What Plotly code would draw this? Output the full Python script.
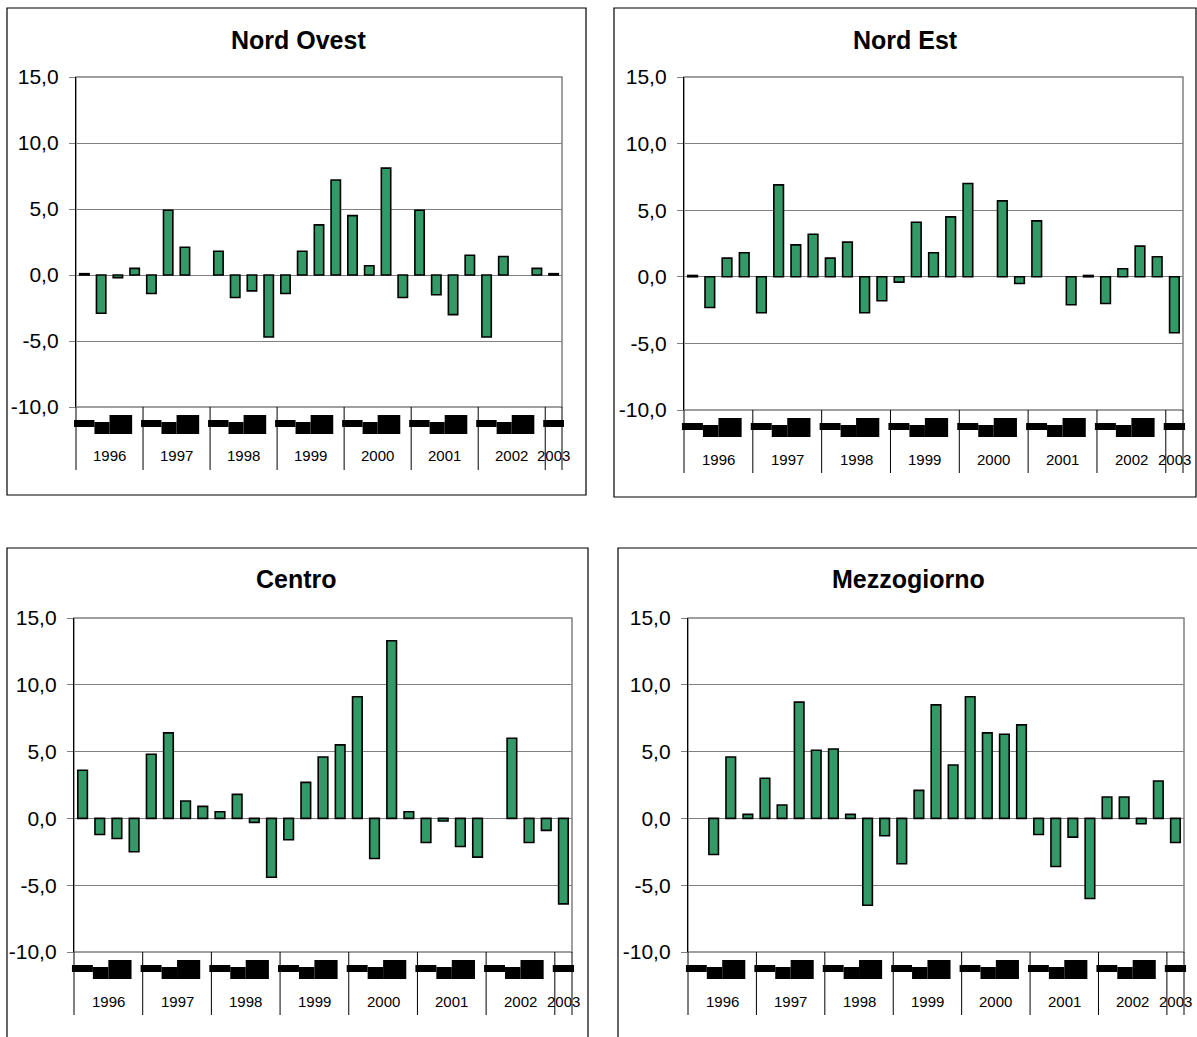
import plotly.graph_objects as go

W, H = 1197, 1037

# ---------------- data ----------------
years = ["1996", "1997", "1998", "1999", "2000", "2001", "2002", "2003"]
quarters_per_year = [4, 4, 4, 4, 4, 4, 4, 1]
titles = ["Nord Ovest", "Nord Est", "Centro", "Mezzogiorno"]

nord_ovest = [0.1, -2.9, -0.2, 0.5, -1.4, 4.9, 2.1, None, 1.8, -1.7, -1.2, -4.7,
              -1.4, 1.8, 3.8, 7.2, 4.5, 0.7, 8.1, -1.7, 4.9, -1.5, -3.0, 1.5,
              -4.7, 1.4, None, 0.5, 0.1]
nord_est = [0.1, -2.3, 1.4, 1.8, -2.7, 6.9, 2.4, 3.2, 1.4, 2.6, -2.7, -1.8,
            -0.4, 4.1, 1.8, 4.5, 7.0, None, 5.7, -0.5, 4.2, None, -2.1, 0.1,
            -2.0, 0.6, 2.3, 1.5, -4.2]
centro = [3.6, -1.2, -1.5, -2.5, 4.8, 6.4, 1.3, 0.9, 0.5, 1.8, -0.3, -4.4,
          -1.6, 2.7, 4.6, 5.5, 9.1, -3.0, 13.3, 0.5, -1.8, -0.2, -2.1, -2.9,
          None, 6.0, -1.8, -0.9, -6.4]
mezzogiorno = [None, -2.7, 4.6, 0.3, 3.0, 1.0, 8.7, 5.1, 5.2, 0.3, -6.5, -1.3,
               -3.4, 2.1, 8.5, 4.0, 9.1, 6.4, 6.3, 7.0, -1.2, -3.6, -1.4, -6.0,
               1.6, 1.6, -0.4, 2.8, -1.8]
series = [nord_ovest, nord_est, centro, mezzogiorno]
y_ticks = [-10, -5, 0, 5, 10, 15]
y_tick_text = [("%.1f" % v).replace(".", ",") for v in y_ticks]

# ---------------- layout geometry (pixels) ----------------
# plot area: x0, x1, ytop, ybottom
plot_px = [(76, 562, 77, 407), (684, 1183, 77, 410),
           (74, 572, 618, 952), (688, 1184, 618, 952)]
# panel border: x0, x1, y0, y1
border_px = [(7, 586, 8, 495), (614, 1196, 8, 497),
             (7, 588, 548, 1045), (618, 1205, 548, 1045)]
title_px = [(298, 40), (905, 40), (296, 579), (908, 579)]

GREEN = "#339966"
GRAY = "#808080"
FONT = "Liberation Sans"

fig = go.Figure()
shapes = []
annotations = []

def px2x(p):
    return p / W

def px2y(p):
    return 1 - p / H

for i, (name, vals) in enumerate(zip(titles, series)):
    k = "" if i == 0 else str(i + 1)
    xa, ya = "x" + k, "y" + k
    x0, x1, yt, yb = plot_px[i]
    n = len(vals)
    xs = list(range(1, n + 1))

    fig.add_trace(go.Bar(
        x=xs, y=vals, xaxis=xa, yaxis=ya, width=0.56,
        marker=dict(color=GREEN, line=dict(color="black", width=1.6)),
        hoverinfo="x+y", showlegend=False,
    ))

    fig.layout["xaxis" + k] = dict(
        domain=[px2x(x0), px2x(x1)], anchor=ya, range=[0.5, n + 0.5],
        showticklabels=False, showgrid=False, zeroline=False,
        showline=False, ticks="", fixedrange=True,
    )
    fig.layout["yaxis" + k] = dict(
        domain=[px2y(yb), px2y(yt)], anchor=xa, range=[-10, 15],
        tickmode="array", tickvals=y_ticks, ticktext=y_tick_text,
        showgrid=True, gridcolor=GRAY, gridwidth=1.3,
        zeroline=False, showline=True, linecolor="black", linewidth=1.3,
        ticks="outside", ticklen=6, tickcolor=GRAY, tickwidth=1.3,
        ticklabelstandoff=6,
        tickfont=dict(family=FONT, size=21, color="black"), fixedrange=True,
    )

    # plot-area frame (gray)
    shapes.append(dict(type="rect", xref="paper", yref="paper",
                       x0=px2x(x0), x1=px2x(x1), y0=px2y(yb), y1=px2y(yt),
                       line=dict(color=GRAY, width=1.5), layer="below"))

    # panel border (black)
    bx0, bx1, by0, by1 = border_px[i]
    shapes.append(dict(type="rect", xref="paper", yref="paper",
                       x0=px2x(bx0), x1=px2x(bx1), y0=px2y(by1), y1=px2y(by0),
                       line=dict(color="black", width=1.2)))

    # title
    tx, ty = title_px[i]
    annotations.append(dict(text="<b>%s</b>" % name, xref="paper", yref="paper",
                            x=px2x(tx), y=px2y(ty), showarrow=False,
                            xanchor="center", yanchor="middle",
                            font=dict(family=FONT, size=25, color="black")))

    slot = (x1 - x0) / n

    def sx(pos):
        return px2x(x0 + pos * slot)

    # year separators, labels, and the (unreadable) quarter label blocks
    start = 0
    bounds = [0]
    for yr, q in zip(years, quarters_per_year):
        bounds.append(start + q)
        center = start + q / 2
        annotations.append(dict(text=yr, xref="paper", yref="paper",
                                x=sx(center), y=px2y(yb + 49), showarrow=False,
                                xanchor="center", yanchor="middle",
                                font=dict(family=FONT, size=15, color="black")))
        if q == 4:
            blocks = [(start - 0.12, start + 1.1, 13, 20),
                      (start + 1.1, start + 2.0, 15, 27),
                      (start + 2.0, start + 3.35, 8, 27)]
        else:
            blocks = [(start - 0.12, start + q + 0.12, 13, 20)]
        for a, b, d0, d1 in blocks:
            shapes.append(dict(type="rect", xref="paper", yref="paper",
                               x0=sx(a), x1=sx(b), y0=px2y(yb + d1), y1=px2y(yb + d0),
                               line=dict(width=0), fillcolor="black"))
        start += q
    for bnd in bounds:
        shapes.append(dict(type="line", xref="paper", yref="paper",
                           x0=sx(bnd), x1=sx(bnd), y0=px2y(yb), y1=px2y(yb + 63),
                           line=dict(color="black", width=1)))

fig.update_layout(
    width=W, height=H, margin=dict(l=0, r=0, t=0, b=0, autoexpand=False),
    paper_bgcolor="white", plot_bgcolor="white",
    showlegend=False, bargap=0.4,
    font=dict(family=FONT, color="black"),
    shapes=shapes, annotations=annotations,
)

fig.write_html(
    "out.html",
    config={"displayModeBar": False},
    post_script="document.body.style.margin='0';document.body.style.overflow='hidden';",
)
